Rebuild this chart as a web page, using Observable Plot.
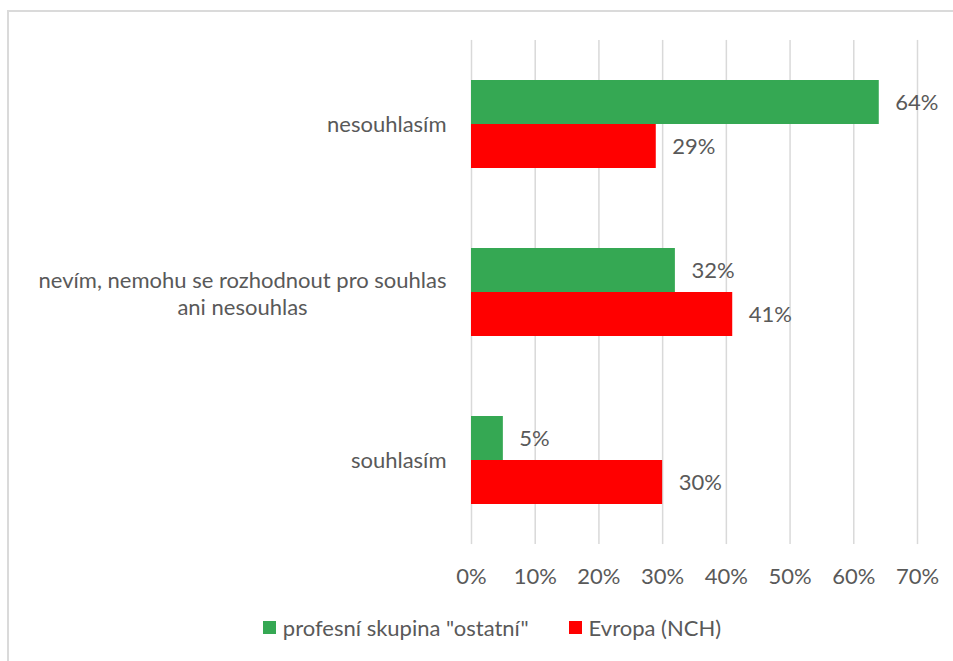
<!DOCTYPE html>
<html>
<head>
<meta charset="utf-8">
<script src="https://cdn.jsdelivr.net/npm/d3@7"></script>
<script src="https://cdn.jsdelivr.net/npm/@observablehq/plot@0.6"></script>
<style>
  html, body { margin: 0; padding: 0; background: #fff; overflow: hidden; }
  #frame {
    position: absolute; left: 7px; top: 10px; width: 960px; height: 670px;
    border-top: 2px solid #dadada; border-left: 2px solid #dadada;
    font-family: Lato, "Liberation Sans", sans-serif; color: #595959;
  }
  #legend {
    display: flex; justify-content: center; align-items: center; gap: 40px;
    font-size: 22px; width: 944px; box-sizing: border-box; padding-left: 22px; margin-top: 19px;
  }
  #legend .item { display: flex; align-items: center; gap: 7px; }
  #legend .sw { width: 13px; height: 13px; display: inline-block; }
</style>
</head>
<body>
<div id="frame"><div id="chart"></div><div id="legend"></div></div>
<script>
// Answer categories (top to bottom); "\n" marks the wrapped line
const categories = [
  "nesouhlasím",
  "nevím, nemohu se rozhodnout pro souhlas\nani nesouhlas",
  "souhlasím"
];
// Two compared groups
const series = ['profesní skupina "ostatní"', "Evropa (NCH)"];
const seriesColors = ["#35a853", "#ff0000"];
// Shares in percent, in the order of categories
const ostatniValues = [64, 32, 5];
const evropaValues = [29, 41, 30];
// Axis ticks (percent)
const xTicks = [0, 10, 20, 30, 40, 50, 60, 70];

const FONT = 'Lato, "Liberation Sans", sans-serif';
const FONT_SIZE = 22;
const TEXT = "#595959";

const W = 944, H = 583;
const M = {top: 28, right: 36, bottom: 50, left: 462};
const PAD_INNER = 0.476, PAD_OUTER = PAD_INNER / 2;

const rows = [];
categories.forEach((c, i) => {
  rows.push({category: c, series: series[0], value: ostatniValues[i]});
  rows.push({category: c, series: series[1], value: evropaValues[i]});
});

const singleLine = categories.filter(c => !c.includes("\n"));
const multiLine = categories.filter(c => c.includes("\n"));

// Wrapped labels are centred as a block whose right edge lines up with the others
const ctx = document.createElement("canvas").getContext("2d");
ctx.font = `${FONT_SIZE}px ${FONT}`;
const widest = s => Math.max(...s.split("\n").map(l => ctx.measureText(l).width));
const labelGap = 25;

// Gridlines are drawn per facet and stretched over half the gap on each side,
// so they read as continuous lines over the whole plot
const step = (H - M.top - M.bottom) / (categories.length - PAD_INNER + 2 * PAD_OUTER);
const halfGap = (PAD_INNER * step) / 2;

const chart = Plot.plot({
  width: W,
  height: H,
  marginLeft: M.left,
  marginRight: M.right,
  marginTop: M.top,
  marginBottom: M.bottom,
  style: {fontFamily: FONT, fontSize: FONT_SIZE + "px", color: TEXT, background: "white", overflow: "visible"},
  x: {domain: [0, 70], label: null},
  fy: {domain: categories, paddingInner: PAD_INNER, paddingOuter: PAD_OUTER, axis: null, label: null},
  y: {domain: series, axis: null, paddingInner: 0, paddingOuter: 0},
  color: {domain: series, range: seriesColors},
  marks: [
    Plot.ruleX(xTicks, {stroke: "#d9d9d9", strokeWidth: 1.5, insetTop: -halfGap, insetBottom: -halfGap}),
    Plot.barX(rows, {fy: "category", y: "series", x: "value", fill: "series"}),
    Plot.text(rows, {
      fy: "category", y: "series", x: "value",
      text: d => d.value + "%", dx: 16, textAnchor: "start", fill: TEXT
    }),
    // the axis sits under the last facet, so push it past the outer padding
    Plot.axisX({ticks: xTicks, tickSize: 0, tickPadding: 24 + halfGap, tickFormat: d => d + "%", label: null, fill: TEXT}),
    Plot.text(singleLine, {
      fy: d => d, text: d => d, frameAnchor: "left", dx: -labelGap, textAnchor: "end", fill: TEXT
    }),
    ...multiLine.map(c => Plot.text([c], {
      fy: d => d, text: d => d, frameAnchor: "left",
      dx: -labelGap - widest(c) / 2, textAnchor: "middle", lineHeight: 1.23, fill: TEXT
    }))
  ]
});
document.getElementById("chart").append(chart);

const legend = document.getElementById("legend");
series.forEach((s, i) => {
  const item = document.createElement("span");
  item.className = "item";
  const sw = document.createElement("span");
  sw.className = "sw";
  sw.style.background = seriesColors[i];
  const label = document.createElement("span");
  label.textContent = s;
  item.append(sw, label);
  legend.append(item);
});
</script>
</body>
</html>
